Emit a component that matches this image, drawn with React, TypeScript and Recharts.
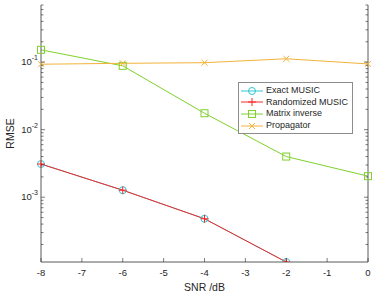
import { LineChart, Line, XAxis, YAxis } from "recharts";

const snr = [-8, -6, -4, -2, 0];
const exactMusic = [3.1e-3, 1.27e-3, 4.8e-4, 1.1e-4, null];
const randomizedMusic = [3.1e-3, 1.27e-3, 4.8e-4, 1.1e-4, null];
const matrixInverse = [0.152, 0.088, 0.0175, 0.004, 0.00205];
const propagator = [0.093, 0.096, 0.098, 0.112, 0.094];

const xTicks = [-8, -7, -6, -5, -4, -3, -2, -1, 0];
const decades = [1e-4, 1e-3, 1e-2, 1e-1];
const mantissas = [1, 2, 3, 4, 5, 6, 7, 8, 9];

const yDomain = [1.1e-4, 0.7];
const yTicks = decades
  .flatMap((d) => mantissas.map((m) => +(m * d).toPrecision(2)))
  .filter((v) => v >= yDomain[0] && v <= yDomain[1]);

const data = snr.map((s, i) => ({
  snr: s,
  exact: exactMusic[i],
  randomized: randomizedMusic[i],
  inverse: matrixInverse[i],
  propagator: propagator[i],
}));

const series = [
  { key: "exact", name: "Exact MUSIC", color: "#2fc6d2", marker: "circle" },
  { key: "randomized", name: "Randomized MUSIC", color: "#ff2626", marker: "plus" },
  { key: "inverse", name: "Matrix inverse", color: "#7fd12c", marker: "square" },
  { key: "propagator", name: "Propagator", color: "#f2b33a", marker: "cross" },
];

const AXIS = "#262626";
const FONT = "'Liberation Sans', Arial, sans-serif";

const Marker = ({ type, cx, cy, color }: any) => {
  if (type === "circle") return <circle cx={cx} cy={cy} r={3.5} fill="none" stroke={color} strokeWidth={1} />;
  if (type === "square") return <rect x={cx - 3.5} y={cy - 3.5} width={7} height={7} fill="none" stroke={color} strokeWidth={1} />;
  if (type === "plus")
    return (
      <g stroke={color} strokeWidth={1}>
        <line x1={cx - 4} x2={cx + 4} y1={cy} y2={cy} />
        <line x1={cx} x2={cx} y1={cy - 4} y2={cy + 4} />
      </g>
    );
  return (
    <g stroke={color} strokeWidth={1}>
      <line x1={cx - 3} x2={cx + 3} y1={cy - 3} y2={cy + 3} />
      <line x1={cx - 3} x2={cx + 3} y1={cy + 3} y2={cy - 3} />
    </g>
  );
};

const isMajor = (v: number) => Math.abs(Math.log10(v) - Math.round(Math.log10(v))) < 1e-6;

const LeftTick = ({ x, y, payload }: any) => {
  const v = payload.value;
  const major = isMajor(v);
  return (
    <g>
      <line x1={x} x2={x + (major ? 4 : 2.5)} y1={y} y2={y} stroke={AXIS} strokeWidth={0.6} />
      {major && (
        <text x={x - 3} y={y + 3} textAnchor="end" fontSize={9.5} fill={AXIS} fontFamily={FONT}>
          10<tspan dy={-5} fontSize={7}>{Math.round(Math.log10(v))}</tspan>
        </text>
      )}
    </g>
  );
};

const RightTick = ({ x, y, payload }: any) => {
  const major = isMajor(payload.value);
  return <line x1={x} x2={x - (major ? 4 : 2.5)} y1={y} y2={y} stroke={AXIS} strokeWidth={0.6} />;
};

const BottomTick = ({ x, y, payload }: any) => (
  <g>
    <line x1={x} x2={x} y1={y} y2={y - 4} stroke={AXIS} strokeWidth={0.6} />
    <text x={x} y={y + 14} textAnchor="middle" fontSize={9.5} fill={AXIS} fontFamily={FONT}>
      {payload.value}
    </text>
  </g>
);

const TopTick = ({ x, y }: any) => <line x1={x} x2={x} y1={y} y2={y + 4} stroke={AXIS} strokeWidth={0.6} />;

const LegendBox = () => (
  <div
    style={{
      position: "absolute",
      left: 238,
      top: 82,
      border: "1px solid #8c8c8c",
      background: "#fff",
      padding: "2px 4px 2px 2px",
      fontFamily: FONT,
      fontSize: 9,
      color: "#262626",
      lineHeight: "11.6px",
    }}
  >
    {series.map((s) => (
      <div key={s.key} style={{ display: "flex", alignItems: "center", height: 11.6 }}>
        <svg width={22} height={10} style={{ marginRight: 3 }}>
          <line x1={0} x2={22} y1={5} y2={5} stroke={s.color} strokeWidth={1} />
          <Marker type={s.marker} cx={11} cy={5} color={s.color} />
        </svg>
        <span>{s.name}</span>
      </div>
    ))}
  </div>
);

const RmseLabel = ({ viewBox }: any) => {
  const cx = 10;
  const cy = viewBox.y + viewBox.height / 2;
  return (
    <text x={cx} y={cy} transform={`rotate(-90, ${cx}, ${cy})`} textAnchor="middle" dominantBaseline="central" fontSize={10.5} fill={AXIS} fontFamily={FONT}>
      RMSE
    </text>
  );
};

const App = () => (
  <div style={{ position: "absolute", left: 0, top: 0, width: 382, height: 296, background: "#fff" }}>
    <LineChart width={382} height={296} data={data} margin={{ top: 5, right: 0, bottom: 0, left: 0 }}>
      <XAxis
        dataKey="snr"
        type="number"
        domain={[-8, 0]}
        ticks={xTicks}
        interval={0}
        height={34}
        tickSize={0}
        tickMargin={0}
        tick={<BottomTick />}
        axisLine={{ stroke: "#5a5a5a" }}
        tickLine={false}
        label={{ value: "SNR /dB", position: "insideBottom", offset: 5, fontSize: 10.5, fill: AXIS, fontFamily: FONT }}
      />
      <XAxis
        xAxisId="top"
        dataKey="snr"
        type="number"
        orientation="top"
        domain={[-8, 0]}
        ticks={xTicks}
        interval={0}
        height={0}
        tickSize={0}
        tickMargin={0}
        tick={<TopTick />}
        axisLine={{ stroke: "#5a5a5a" }}
        tickLine={false}
      />
      <YAxis
        scale="log"
        domain={yDomain}
        allowDataOverflow
        ticks={yTicks}
        interval={0}
        width={41}
        tickSize={0}
        tickMargin={0}
        tick={<LeftTick />}
        axisLine={{ stroke: "#5a5a5a" }}
        tickLine={false}
        label={<RmseLabel />}
      />
      <YAxis
        yAxisId="right"
        orientation="right"
        scale="log"
        domain={yDomain}
        allowDataOverflow
        ticks={yTicks}
        interval={0}
        width={14}
        tickSize={0}
        tickMargin={0}
        tick={<RightTick />}
        axisLine={{ stroke: "#5a5a5a" }}
        tickLine={false}
      />
      {series.map((s) => (
        <Line
          key={s.key}
          dataKey={s.key}
          name={s.name}
          stroke={s.color}
          strokeWidth={1}
          isAnimationActive={false}
          connectNulls={false}
          dot={(p: any) =>
            p.cx == null || p.cy == null || p.value == null ? (
              <g key={`${s.key}-${p.index}`} />
            ) : (
              <Marker key={`${s.key}-${p.index}`} type={s.marker} cx={p.cx} cy={p.cy} color={s.color} />
            )
          }
          activeDot={false}
        />
      ))}
    </LineChart>
    <LegendBox />
  </div>
);

export default App;
